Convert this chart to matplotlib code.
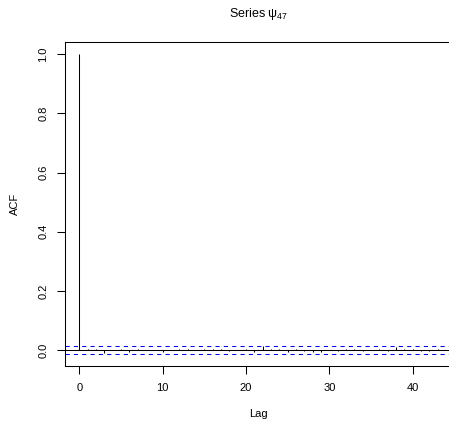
import numpy as np
import matplotlib
matplotlib.use('Agg')
import matplotlib.pyplot as plt

plt.rcParams['font.family'] = ['Liberation Sans', 'DejaVu Sans']
plt.rcParams['mathtext.fontset'] = 'custom'
plt.rcParams['mathtext.rm'] = 'Liberation Sans'

# autocorrelations, lags 0..43
lags = np.arange(44)
acf_vals = [1.0, 0.002, 0.002, -0.009, 0.000, 0.003, -0.007, 0.002, -0.001, 0.000,
            -0.006, 0.001, 0.004, 0.003, -0.001, 0.002, 0.005, 0.004, -0.002, -0.001,
            0.002, -0.006, 0.013, 0.005, 0.004, -0.005, 0.004, -0.004, -0.006, -0.007,
            0.001, -0.003, 0.004, 0.005, -0.004, 0.001, 0.004, -0.004, 0.010, 0.005,
            0.005, -0.004, -0.004, 0.003]
ci = 0.0135
x_ticks = [0, 10, 20, 30, 40]
y_ticks = [0.0, 0.2, 0.4, 0.6, 0.8, 1.0]

W, H = 449, 429
fig = plt.figure(figsize=(W / 100, H / 100), dpi=100)
# plot region (right edge falls just outside the picture)
left, right, top, bottom = 65, 452, 42.3, 366
ax = fig.add_axes([left / W, (H - bottom) / H, (right - left) / W, (bottom - top) / H])

ax.vlines(lags, 0, acf_vals, color='black', linewidth=0.75)
ax.axhline(0, color='black', linewidth=0.75)
ax.axhline(ci, color='blue', linewidth=0.75, linestyle=(0, (4, 4)))
ax.axhline(-ci, color='blue', linewidth=0.75, linestyle=(0, (4, 4)))

ax.set_xlim(-0.04 * 43, 43 * 1.04)
ax.set_ylim(-0.054, 1.0405)
ax.set_xticks(x_ticks)
ax.set_yticks(y_ticks)
ax.set_xticklabels([str(t) for t in x_ticks])
ax.set_yticklabels([f'{t:.1f}' for t in y_ticks], rotation=90, va='center')
ax.tick_params(length=5.8, width=0.75, labelsize=8, pad=6.3)
for s in ax.spines.values():
    s.set_linewidth(0.75)

fig.text(258.5 / W, 1 - 14 / H, r'Series $\mathregular{ψ_{47}}$', ha='center', va='center', fontsize=9)
fig.text(258.5 / W, 1 - 414 / H, 'Lag', ha='center', va='center', fontsize=8)
fig.text(15 / W, 1 - 204 / H, 'ACF', ha='center', va='center', fontsize=8, rotation=90)

fig.savefig('out.png', dpi=100)
